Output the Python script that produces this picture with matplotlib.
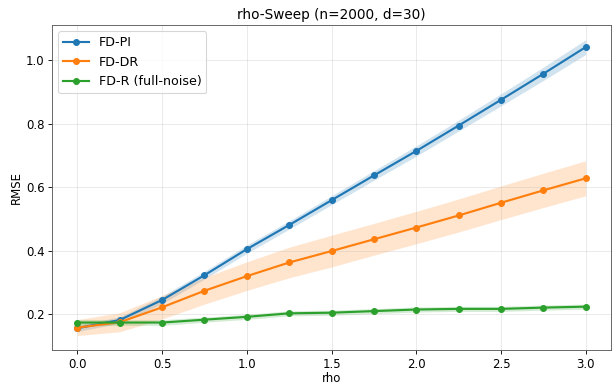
import numpy as np
import matplotlib
matplotlib.use("Agg")
import matplotlib.pyplot as plt

rho = [0.0, 0.25, 0.5, 0.75, 1.0, 1.25, 1.5, 1.75, 2.0, 2.25, 2.5, 2.75, 3.0]

pi_mean = [0.156, 0.182, 0.245, 0.323, 0.405, 0.481, 0.559, 0.637, 0.714, 0.794, 0.875, 0.957, 1.041]
pi_std = [0.010, 0.010, 0.012, 0.012, 0.013, 0.013, 0.014, 0.015, 0.016, 0.017, 0.019, 0.021, 0.023]

dr_mean = [0.158, 0.175, 0.222, 0.274, 0.320, 0.363, 0.399, 0.436, 0.473, 0.511, 0.551, 0.590, 0.628]
dr_std = [0.025, 0.030, 0.037, 0.042, 0.045, 0.048, 0.050, 0.050, 0.051, 0.052, 0.053, 0.054, 0.055]

r_mean = [0.174, 0.174, 0.174, 0.183, 0.192, 0.203, 0.205, 0.210, 0.215, 0.217, 0.217, 0.221, 0.224]
r_std = [0.010, 0.009, 0.009, 0.008, 0.008, 0.008, 0.008, 0.008, 0.008, 0.008, 0.008, 0.008, 0.008]

series = [
    ("FD-PI", pi_mean, pi_std, "#1f77b4"),
    ("FD-DR", dr_mean, dr_std, "#ff7f0e"),
    ("FD-R (full-noise)", r_mean, r_std, "#2ca02c"),
]

fig, ax = plt.subplots(figsize=(8, 5), dpi=77)
x = np.array(rho)
for label, m, s, c in series:
    m = np.array(m); s = np.array(s)
    ax.plot(x, m, marker="o", markersize=5.5, linewidth=2, color=c, label=label)
    ax.fill_between(x, m - s, m + s, color=c, alpha=0.2, linewidth=0)

ax.set_title("rho-Sweep (n=2000, d=30)", fontsize=12.7)
ax.set_xlabel("rho", fontsize=11, labelpad=1)
ax.set_ylabel("RMSE", fontsize=11, labelpad=3)
ax.tick_params(labelsize=11)
for sp in ax.spines.values():
    sp.set_color("#555555")
ax.grid(True, alpha=0.3)
ax.legend(loc="upper left", fontsize=11.8)
fig.subplots_adjust(left=0.0844, right=0.992, top=0.935, bottom=0.09)
fig.savefig("out.png", dpi=77)
